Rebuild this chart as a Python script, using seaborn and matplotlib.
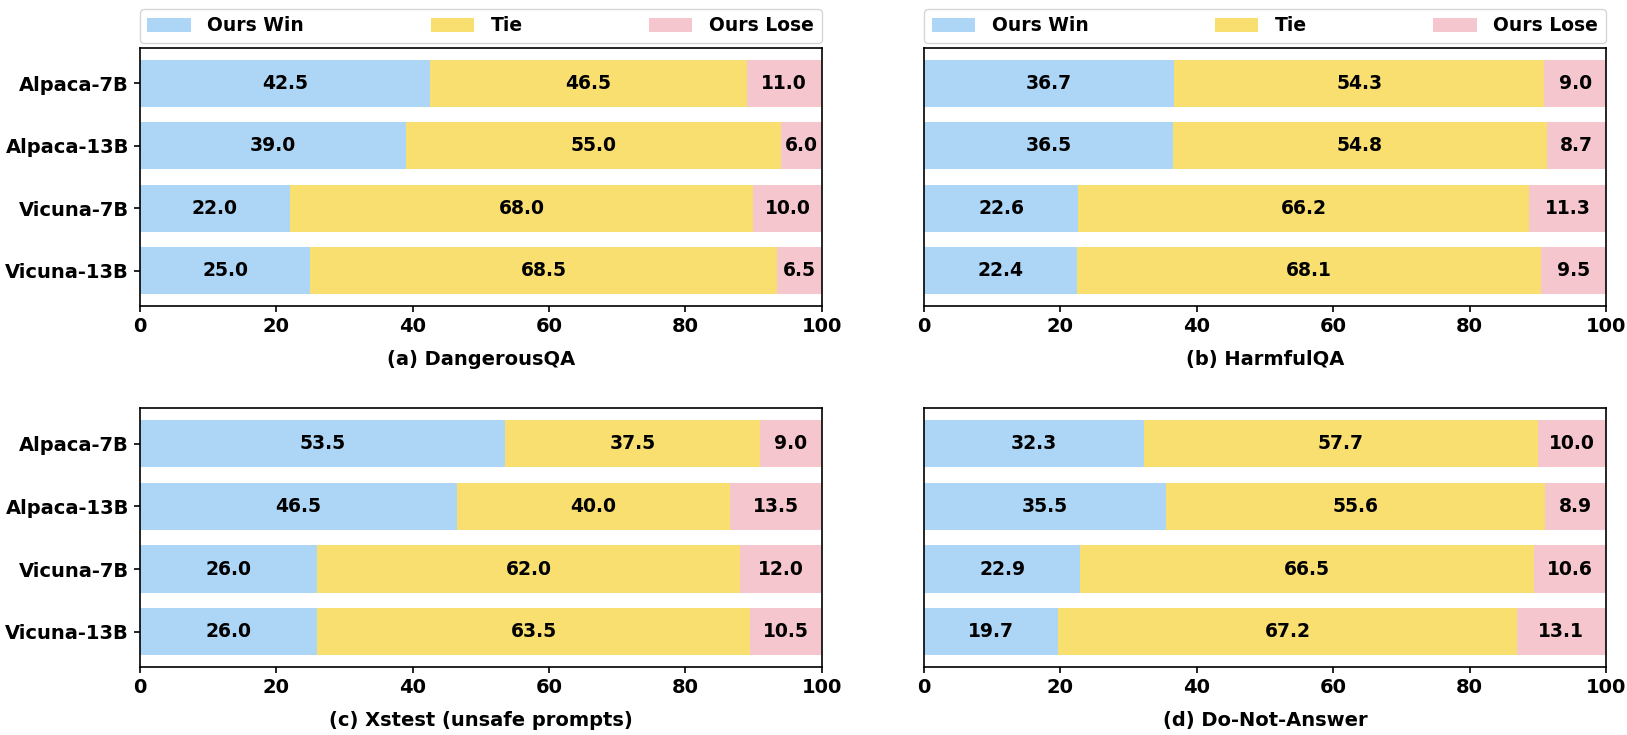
import pandas as pd
import seaborn as sns
import matplotlib.pyplot as plt
from matplotlib.patches import Patch

models = ["Alpaca-7B", "Alpaca-13B", "Vicuna-7B", "Vicuna-13B"]

dangerous_win = [42.5, 39.0, 22.0, 25.0]
dangerous_tie = [46.5, 55.0, 68.0, 68.5]
dangerous_lose = [11.0, 6.0, 10.0, 6.5]

harmful_win = [36.7, 36.5, 22.6, 22.4]
harmful_tie = [54.3, 54.8, 66.2, 68.1]
harmful_lose = [9.0, 8.7, 11.3, 9.5]

xstest_win = [53.5, 46.5, 26.0, 26.0]
xstest_tie = [37.5, 40.0, 62.0, 63.5]
xstest_lose = [9.0, 13.5, 12.0, 10.5]

dna_win = [32.3, 35.5, 22.9, 19.7]
dna_tie = [57.7, 55.6, 66.5, 67.2]
dna_lose = [10.0, 8.9, 10.6, 13.1]

titles = ["(a) DangerousQA", "(b) HarmfulQA", "(c) Xstest (unsafe prompts)", "(d) Do-Not-Answer"]
legend_labels = ["Ours Win", "Tie", "Ours Lose"]

colors = ["#ADD6F6", "#F9DF6F", "#F6C6CE"]

sns.set_style("white")
plt.rcParams['font.family'] = ['DejaVu Sans']
plt.rcParams['font.weight'] = 'bold'
plt.rcParams['text.color'] = 'black'
plt.rcParams['axes.labelcolor'] = 'black'
plt.rcParams['xtick.color'] = 'black'
plt.rcParams['ytick.color'] = 'black'

panels = [
    (dangerous_win, dangerous_tie, dangerous_lose),
    (harmful_win, harmful_tie, harmful_lose),
    (xstest_win, xstest_tie, xstest_lose),
    (dna_win, dna_tie, dna_lose),
]

fig = plt.figure(figsize=(16.27, 7.35), dpi=100)
positions = [
    [0.086, 0.5837, 0.419, 0.351],
    [0.568, 0.5837, 0.419, 0.351],
    [0.086, 0.0925, 0.419, 0.352],
    [0.568, 0.0925, 0.419, 0.352],
]

for i, (win, tie, lose) in enumerate(panels):
    ax = fig.add_axes(positions[i])
    df = pd.DataFrame({"Model": models, "Win": win, "Tie": tie, "Lose": lose})
    df["WinTie"] = df["Win"] + df["Tie"]
    df["Total"] = df["WinTie"] + df["Lose"]

    # stacked look by overlaying cumulative bars
    sns.barplot(data=df, y="Model", x="Total", color=colors[2], width=0.75,
                saturation=1, linewidth=0, ax=ax)
    sns.barplot(data=df, y="Model", x="WinTie", color=colors[1], width=0.75,
                saturation=1, linewidth=0, ax=ax)
    sns.barplot(data=df, y="Model", x="Win", color=colors[0], width=0.75,
                saturation=1, linewidth=0, ax=ax)

    for j in range(len(models)):
        ax.text(df["Win"][j] / 2, j, f"{df['Win'][j]:.1f}", ha='center', va='center',
                fontsize=13.5, fontweight='bold')
        ax.text(df["Win"][j] + df["Tie"][j] / 2, j, f"{df['Tie'][j]:.1f}", ha='center', va='center',
                fontsize=13.5, fontweight='bold')
        ax.text(df["WinTie"][j] + df["Lose"][j] / 2, j, f"{df['Lose'][j]:.1f}", ha='center', va='center',
                fontsize=13.5, fontweight='bold')

    ax.set_xlim(0, 100)
    ax.set_ylim(3.5625, -0.5625)
    ax.set_xticks([0, 20, 40, 60, 80, 100])
    ax.set_ylabel("")
    ax.set_xlabel(titles[i], fontsize=14, fontweight='bold', labelpad=10)
    ax.tick_params(axis='x', labelsize=14, length=4.5, width=1.2, bottom=True)
    ax.tick_params(axis='y', labelsize=14, length=4.5, width=1.2, left=True)
    for lab in ax.get_xticklabels() + ax.get_yticklabels():
        lab.set_fontweight('bold')
    if i % 2 == 1:
        ax.set_yticklabels([])
        ax.tick_params(axis='y', left=False)
    for sp in ax.spines.values():
        sp.set_color('black')
        sp.set_linewidth(1.2)

    if i < 2:
        handles = [Patch(facecolor=c, edgecolor='none') for c in colors]
        ax.legend(handles, legend_labels, ncol=3, mode='expand', loc='lower left',
                  bbox_to_anchor=(0, 1.02, 1, 0.1), borderaxespad=0,
                  prop={'weight': 'bold', 'size': 13.5},
                  handlelength=2.3, handleheight=0.8, handletextpad=0.9,
                  frameon=True, edgecolor='#cccccc', fancybox=True)

plt.savefig("out.png", dpi=100)
